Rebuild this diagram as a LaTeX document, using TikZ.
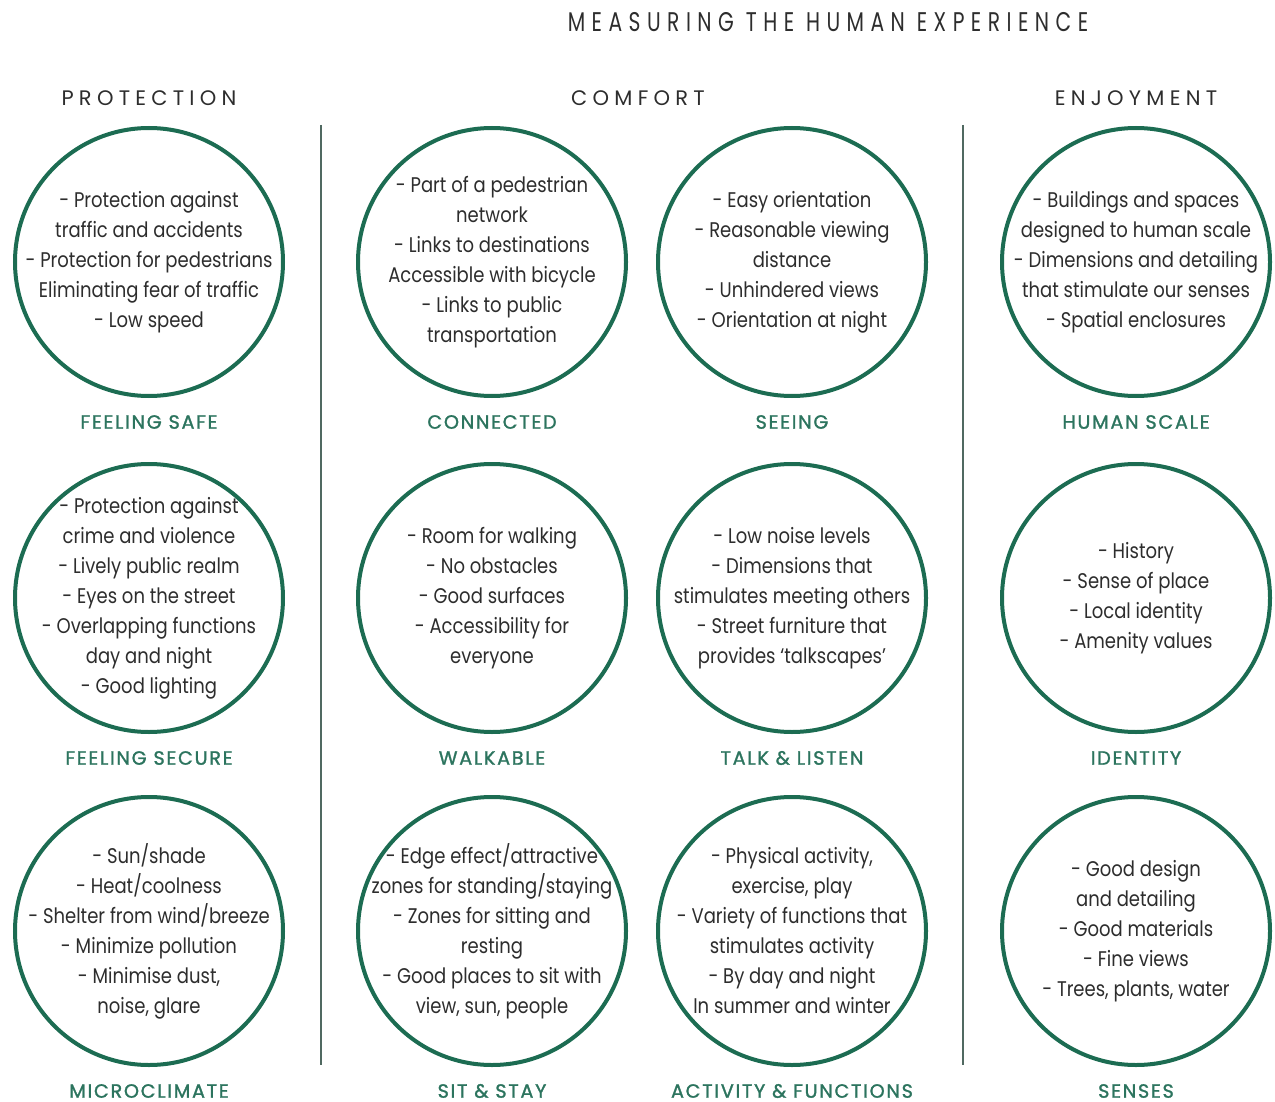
\documentclass[tikz,border=0pt]{standalone}
\usepackage{fontspec}
\setmainfont{Poppins}[FakeStretch=0.85]
\newfontfamily\titlefont{Poppins}[FakeStretch=0.75, LetterSpace=24]
\newfontfamily\headfont{Poppins}[LetterSpace=25]
\newfontfamily\tagfont{Poppins}[LetterSpace=9, FakeBold=1.4]
\usetikzlibrary{positioning}
\definecolor{ringgreen}{RGB}{28,108,82}
\definecolor{taggreen}{RGB}{44,116,94}
\definecolor{bodygray}{RGB}{45,45,45}
\definecolor{rulegray}{RGB}{80,105,97}

\begin{document}
\begin{tikzpicture}[x=0.5pt, y=-0.5pt,
    ring/.style={draw=ringgreen, line width=2pt, circle, minimum size=134pt, inner sep=0pt},
    blurb/.style={align=center, text=bodygray, inner sep=0pt, font=\fontsize{10.6}{15}\selectfont},
    tag/.style={text=taggreen, font=\tagfont\fontsize{9.6}{11}\selectfont},
    head/.style={text=bodygray, font=\headfont\fontsize{10.5}{12}\selectfont}
]
\useasboundingbox (0,0) rectangle (1275,1102);

% Titles
\node[text=bodygray, font=\titlefont\fontsize{13.5}{15}\selectfont] (title) at (828,22) {MEASURING THE HUMAN EXPERIENCE};
\node[head] (protection) at (149,98) {PROTECTION};
\node[head] (comfort) at (638,98) {COMFORT};
\node[head] (enjoyment) at (1136,98) {ENJOYMENT};

% Column rules
\draw[rulegray, line width=1pt] (321,125) -- (321,1065);
\draw[rulegray, line width=1pt] (963,125) -- (963,1065);

% Protection
\node[ring, label={[blurb]center:{- Protection against\\traffic and accidents\\- Protection for pedestrians\\Eliminating fear of traffic\\- Low speed}}] (safe) at (149,262) {};
\node[tag] at ([yshift=-12pt]safe.south) {FEELING SAFE};

\node[ring, label={[blurb]center:{- Protection against\\crime and violence\\- Lively public realm\\- Eyes on the street\\- Overlapping functions\\day and night\\- Good lighting}}] (secure) at (149,598) {};
\node[tag] at ([yshift=-12pt]secure.south) {FEELING SECURE};

\node[ring, label={[blurb]center:{- Sun/shade\\- Heat/coolness\\- Shelter from wind/breeze\\- Minimize pollution\\- Minimise dust,\\noise, glare}}] (climate) at (149,931) {};
\node[tag] at ([yshift=-12pt]climate.south) {MICROCLIMATE};

% Comfort
\node[ring, label={[blurb]center:{- Part of a pedestrian\\network\\- Links to destinations\\Accessible with bicycle\\- Links to public\\transportation}}] (connected) at (492,262) {};
\node[tag] at ([yshift=-12pt]connected.south) {CONNECTED};

\node[ring, label={[blurb]center:{- Room for walking\\- No obstacles\\- Good surfaces\\- Accessibility for\\everyone}}] (walkable) at (492,598) {};
\node[tag] at ([yshift=-12pt]walkable.south) {WALKABLE};

\node[ring, label={[blurb]center:{- Edge effect/attractive\\zones for standing/staying\\- Zones for sitting and\\resting\\- Good places to sit with\\view, sun, people}}] (sitstay) at (492,931) {};
\node[tag] at ([yshift=-12pt]sitstay.south) {SIT \& STAY};

\node[ring, label={[blurb]center:{- Easy orientation\\- Reasonable viewing\\distance\\- Unhindered views\\- Orientation at night}}] (seeing) at (792,262) {};
\node[tag] at ([yshift=-12pt]seeing.south) {SEEING};

\node[ring, label={[blurb]center:{- Low noise levels\\- Dimensions that\\stimulates meeting others\\- Street furniture that\\provides ‘talkscapes’}}] (talk) at (792,598) {};
\node[tag] at ([yshift=-12pt]talk.south) {TALK \& LISTEN};

\node[ring, label={[blurb]center:{- Physical activity,\\exercise, play\\- Variety of functions that\\stimulates activity\\- By day and night\\In summer and winter}}] (activity) at (792,931) {};
\node[tag] at ([yshift=-12pt]activity.south) {ACTIVITY \& FUNCTIONS};

% Enjoyment
\node[ring, label={[blurb]center:{- Buildings and spaces\\designed to human scale\\- Dimensions and detailing\\that stimulate our senses\\- Spatial enclosures}}] (scale) at (1136,262) {};
\node[tag] at ([yshift=-12pt]scale.south) {HUMAN SCALE};

\node[ring, label={[blurb]center:{- History\\- Sense of place\\- Local identity\\- Amenity values}}] (identity) at (1136,598) {};
\node[tag] at ([yshift=-12pt]identity.south) {IDENTITY};

\node[ring, label={[blurb]center:{- Good design\\and detailing\\- Good materials\\- Fine views\\- Trees, plants, water}}] (senses) at (1136,931) {};
\node[tag] at ([yshift=-12pt]senses.south) {SENSES};

\end{tikzpicture}
\end{document}
